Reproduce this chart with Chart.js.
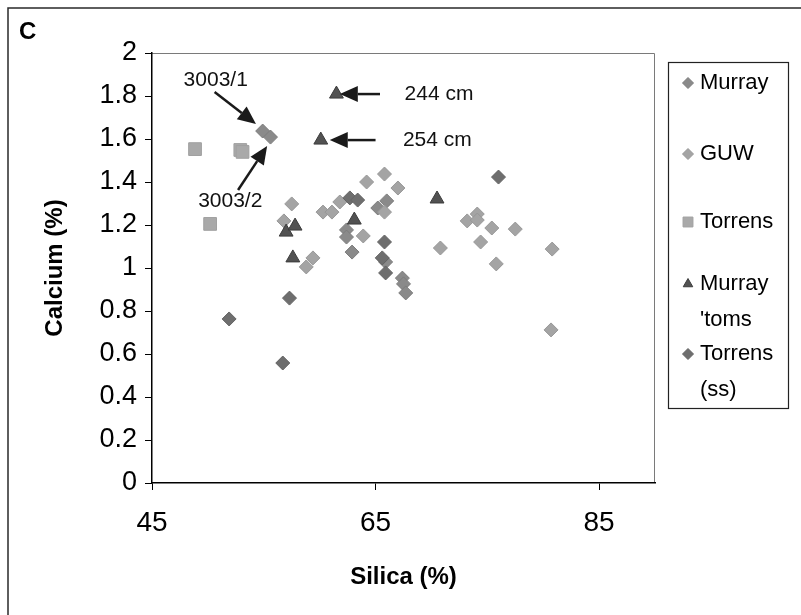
<!DOCTYPE html>
<html>
<head>
<meta charset="utf-8">
<script src="https://cdn.jsdelivr.net/npm/chart.js@4.4.1/dist/chart.umd.min.js"></script>
<style>
  html, body { margin: 0; padding: 0; background: #fff; }
  #wrap { width: 801px; height: 615px; }
</style>
</head>
<body>
<div id="wrap"><canvas id="grafico" width="801" height="615"></canvas></div>
<script>
// Silica (%) en x, Calcium (%) en y
const murrayX = [54.9, 55.6, 66.0, 65.2, 62.4, 62.4, 62.9, 65.9, 67.4, 67.5, 67.7];
const murrayY = [1.637, 1.609, 1.312, 1.279, 1.177, 1.144, 1.074, 1.028, 0.953, 0.926, 0.884];

const guwX = [65.8, 64.2, 67.0, 57.5, 61.8, 60.3, 61.1, 65.8, 56.8, 63.9, 59.4, 58.8,
              73.2, 74.1, 74.1, 75.4, 77.5, 70.8, 74.4, 80.8, 75.8, 80.7];
const guwY = [1.437, 1.40, 1.372, 1.298, 1.307, 1.26, 1.26, 1.26, 1.219, 1.149, 1.047, 1.005,
              1.219, 1.251, 1.223, 1.186, 1.181, 1.093, 1.121, 1.088, 1.019, 0.712];

const torrensX = [48.85, 52.9, 53.1, 50.2];
const torrensY = [1.553, 1.549, 1.54, 1.205];

const tomsX = [61.5, 60.1, 57.0, 57.8, 57.6, 63.1, 70.5];
const tomsY = [1.809, 1.595, 1.167, 1.195, 1.047, 1.223, 1.321];

const torrensSsX = [62.7, 63.4, 65.8, 65.6, 65.9, 57.3, 51.9, 56.7, 76.0];
const torrensSsY = [1.326, 1.316, 1.121, 1.047, 0.977, 0.86, 0.763, 0.558, 1.423];

const xTicks = [45, 65, 85];
const yTicks = [0, 0.2, 0.4, 0.6, 0.8, 1, 1.2, 1.4, 1.6, 1.8, 2];

// anotaciones con flecha (en unidades de datos)
const notas = [
  { texto: "3003/1", tx: 50.7, ty: 1.874, alin: "center", x1: 50.6, y1: 1.819, x2: 54.3, y2: 1.67 },
  { texto: "3003/2", tx: 52.0, ty: 1.31, alin: "center", x1: 52.7, y1: 1.363, x2: 55.3, y2: 1.567 },
  { texto: "244 cm", tx: 67.6, ty: 1.809, alin: "left", x1: 65.4, y1: 1.809, x2: 61.8, y2: 1.809 },
  { texto: "254 cm", tx: 67.45, ty: 1.595, alin: "left", x1: 65.0, y1: 1.595, x2: 60.9, y2: 1.595 }
];

const fuente = '"Liberation Sans", Arial, sans-serif';
Chart.defaults.font.family = fuente;
Chart.defaults.color = "#000";

function puntos(xs, ys) {
  return xs.map((x, i) => ({ x: x, y: ys[i] }));
}

const series = [
  { label: "Murray", data: puntos(murrayX, murrayY), pointStyle: "rectRot", pointRadius: 7,
    backgroundColor: "#8a8a8a", borderColor: "#7c7c7c", order: 5, leyenda: ["Murray"], ly: 83 },
  { label: "GUW", data: puntos(guwX, guwY), pointStyle: "rectRot", pointRadius: 7,
    backgroundColor: "#a4a4a4", borderColor: "#979797", order: 4, leyenda: ["GUW"], ly: 154 },
  { label: "Torrens", data: puntos(torrensX, torrensY), pointStyle: "rect", pointRadius: 9,
    backgroundColor: "#a9a9a9", borderColor: "#a0a0a0", order: 3, leyenda: ["Torrens"], ly: 222 },
  { label: "Murray 'toms", data: puntos(tomsX, tomsY), pointStyle: "triangle", pointRadius: 8,
    backgroundColor: "#525252", borderColor: "#3c3c3c", order: 2, leyenda: ["Murray", "'toms"], ly: 284 },
  { label: "Torrens (ss)", data: puntos(torrensSsX, torrensSsY), pointStyle: "rectRot", pointRadius: 7,
    backgroundColor: "#6e6e6e", borderColor: "#636363", order: 1, leyenda: ["Torrens", "(ss)"], ly: 354 }
];

function flecha(ctx, ax, ay, bx, by) {
  const ang = Math.atan2(by - ay, bx - ax);
  const largo = 18, medio = 8;
  const cx = bx - largo * Math.cos(ang), cy = by - largo * Math.sin(ang);
  ctx.strokeStyle = "#1a1a1a";
  ctx.fillStyle = "#1a1a1a";
  ctx.lineWidth = 2.5;
  ctx.beginPath();
  ctx.moveTo(ax, ay);
  ctx.lineTo(cx, cy);
  ctx.stroke();
  ctx.beginPath();
  ctx.moveTo(bx, by);
  ctx.lineTo(cx - medio * Math.sin(ang), cy + medio * Math.cos(ang));
  ctx.lineTo(cx + medio * Math.sin(ang), cy - medio * Math.cos(ang));
  ctx.closePath();
  ctx.fill();
}

const extras = {
  id: "extras",
  beforeDraw(chart) {
    const ctx = chart.ctx;
    const a = chart.chartArea;
    ctx.save();
    // marco exterior
    ctx.strokeStyle = "#2a2a2a";
    ctx.lineWidth = 1.5;
    ctx.beginPath();
    ctx.moveTo(8, 615);
    ctx.lineTo(8, 8);
    ctx.lineTo(801, 8);
    ctx.stroke();
    // borde del area de trazado (arriba y derecha)
    ctx.strokeStyle = "#7a7a7a";
    ctx.lineWidth = 1;
    ctx.beginPath();
    ctx.moveTo(a.left, a.top + 0.5);
    ctx.lineTo(a.right - 0.5, a.top + 0.5);
    ctx.lineTo(a.right - 0.5, a.bottom);
    ctx.stroke();
    // letra del panel
    ctx.fillStyle = "#000";
    ctx.font = "bold 24px " + fuente;
    ctx.textBaseline = "middle";
    ctx.textAlign = "left";
    ctx.fillText("C", 19, 32);
    ctx.restore();
  },
  afterDraw(chart) {
    const ctx = chart.ctx;
    const sx = chart.scales.x, sy = chart.scales.y;
    ctx.save();
    // flechas y textos
    notas.forEach(n => {
      flecha(ctx, sx.getPixelForValue(n.x1), sy.getPixelForValue(n.y1),
                  sx.getPixelForValue(n.x2), sy.getPixelForValue(n.y2));
      ctx.fillStyle = "#111";
      ctx.font = "21px " + fuente;
      ctx.textAlign = n.alin;
      ctx.textBaseline = "middle";
      ctx.fillText(n.texto, sx.getPixelForValue(n.tx), sy.getPixelForValue(n.ty));
    });
    // leyenda
    ctx.strokeStyle = "#222";
    ctx.lineWidth = 1.2;
    ctx.strokeRect(668.5, 62.5, 120, 346);
    chart.data.datasets.forEach(ds => {
      ctx.fillStyle = ds.backgroundColor;
      ctx.strokeStyle = ds.borderColor;
      ctx.lineWidth = 1;
      const r = ds.pointStyle === "rect" ? 7 : 5.5;
      Chart.helpers.drawPoint(ctx, { pointStyle: ds.pointStyle, radius: r, rotation: 0, borderWidth: 1 }, 688, ds.ly);
      ctx.fillStyle = "#000";
      ctx.font = "22px " + fuente;
      ctx.textAlign = "left";
      ctx.textBaseline = "middle";
      ds.leyenda.forEach((t, i) => ctx.fillText(t, 700, ds.ly + i * 36));
    });
    ctx.restore();
  }
};

new Chart(document.getElementById("grafico"), {
  type: "scatter",
  data: { datasets: series },
  options: {
    responsive: false,
    animation: false,
    layout: { padding: { left: 10, top: 53, right: 146, bottom: 0 } },
    elements: { point: { borderWidth: 1 } },
    plugins: { legend: { display: false }, tooltip: { enabled: false } },
    scales: {
      x: {
        type: "linear",
        min: 45,
        max: 90,
        afterBuildTicks: s => { s.ticks = xTicks.map(v => ({ value: v })); },
        afterFit: s => { s.height = 132; },
        grid: { drawOnChartArea: false, drawTicks: true, tickLength: 7, color: "#000", lineWidth: 1 },
        border: { display: true, color: "#000", width: 1.5 },
        ticks: { color: "#000", font: { size: 28 }, padding: 16, maxRotation: 0, callback: v => String(v) },
        title: { display: true, text: "Silica (%)", color: "#000",
                 font: { size: 24, weight: "bold" }, padding: { top: 0, bottom: 23 } }
      },
      y: {
        type: "linear",
        min: 0,
        max: 2,
        afterBuildTicks: s => { s.ticks = yTicks.map(v => ({ value: v })); },
        afterFit: s => { s.width = 142; },
        grid: { drawOnChartArea: false, drawTicks: true, tickLength: 7, color: "#000", lineWidth: 1 },
        border: { display: true, color: "#000", width: 1.5 },
        ticks: { color: "#000", font: { size: 27 }, padding: 8, callback: v => String(Number(v.toFixed(1))) },
        title: { display: true, text: "Calcium (%)", color: "#000",
                 font: { size: 24, weight: "bold" }, padding: { top: 31, bottom: 0 } }
      }
    }
  },
  plugins: [extras]
});
</script>
</body>
</html>
